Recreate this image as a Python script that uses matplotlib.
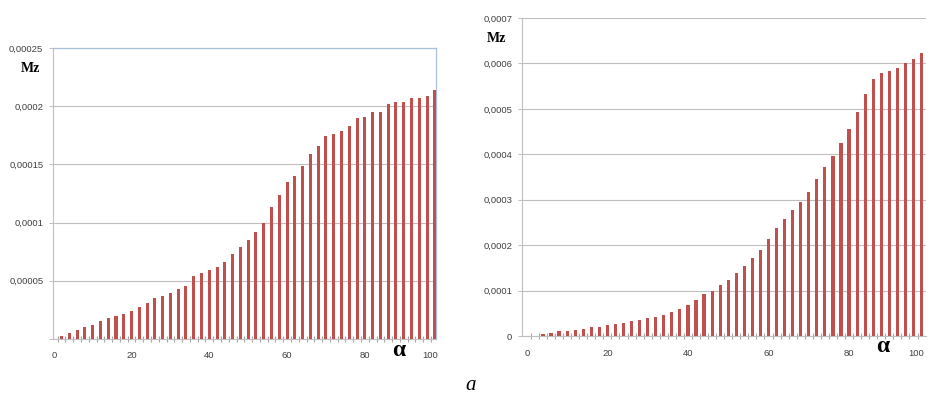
"""Two Excel-style bar charts of Mz versus alpha."""

import matplotlib

matplotlib.use("Agg")
import matplotlib.pyplot as plt
import numpy as np

# data
ALPHA = list(range(2, 100, 2))

MZ_LEFT = [
    0.0000026, 0.0000051, 0.0000074, 0.0000103, 0.0000123, 0.0000151, 0.0000177,
    0.0000200, 0.0000217, 0.0000240, 0.0000274, 0.0000308, 0.0000348, 0.0000373,
    0.0000393, 0.0000428, 0.0000456, 0.0000539, 0.0000564, 0.0000593, 0.0000619,
    0.0000664, 0.0000730, 0.0000790, 0.0000850, 0.0000915, 0.0000998, 0.000113,
    0.000124, 0.000135, 0.000140, 0.000149, 0.000159, 0.000166, 0.000174,
    0.000176, 0.000179, 0.000183, 0.000190, 0.000191, 0.000195, 0.000195,
    0.000202, 0.000204, 0.000204, 0.000207, 0.000207, 0.000209, 0.000214,
]

MZ_RIGHT = [
    0.0, 0.0000037, 0.0000073, 0.000011, 0.000011, 0.000014, 0.0000153,
    0.000019, 0.0000205, 0.000024, 0.0000256, 0.0000292, 0.0000321, 0.0000358,
    0.0000387, 0.0000409, 0.0000453, 0.0000533, 0.0000585, 0.0000672, 0.0000789,
    0.0000935, 0.000100, 0.0001125, 0.0001235, 0.0001395, 0.000155, 0.0001724,
    0.000190, 0.000213, 0.000237, 0.000258, 0.000278, 0.000296, 0.000316,
    0.000346, 0.000373, 0.000396, 0.000425, 0.000455, 0.000493, 0.000533,
    0.000566, 0.000578, 0.000584, 0.000590, 0.000600, 0.000610, 0.000622,
]

X_LABELS = ["0", "20", "40", "60", "80", "100"]
X_LABEL_POS = [0, 20, 40, 60, 80, 96.7]

Y_TICKS_LEFT = [0.0, 0.00005, 0.0001, 0.00015, 0.0002, 0.00025]
Y_LABELS_LEFT = ["", "0,00005", "0,0001", "0,00015", "0,0002", "0,00025"]

Y_TICKS_RIGHT = [0.0, 0.0001, 0.0002, 0.0003, 0.0004, 0.0005, 0.0006, 0.0007]
Y_LABELS_RIGHT = ["0", "0,0001", "0,0002", "0,0003", "0,0004", "0,0005", "0,0006", "0,0007"]

BAR_COLOR = "#c0504d"
GRID_COLOR = "#bfbfbf"
TEXT_COLOR = "#404040"
BORDER_COLOR = "#a9c1da"

plt.rcParams["font.family"] = ["Liberation Sans", "DejaVu Sans"]


def style_axes(ax, yticks, ylabels, xlim, boxed):
    ax.set_xlim(*xlim)
    ax.set_ylim(yticks[0], yticks[-1])
    ax.set_yticks(yticks, labels=ylabels)
    ax.set_xticks(X_LABEL_POS, labels=X_LABELS)
    ax.set_xticks(np.arange(1, 99, 2), minor=True)
    ax.tick_params(axis="y", length=3, width=0.7, color=GRID_COLOR,
                   labelsize=6.8, labelcolor=TEXT_COLOR, pad=4)
    ax.tick_params(axis="x", which="major", length=0, labelsize=6.8,
                   labelcolor=TEXT_COLOR, pad=9)
    ax.tick_params(axis="x", which="minor", direction="inout", length=4,
                   width=0.8, color="#a6a6a6")
    ax.grid(axis="y", color=GRID_COLOR, linewidth=0.8)
    ax.set_axisbelow(True)
    for side in ("left", "bottom"):
        ax.spines[side].set_color(GRID_COLOR)
        ax.spines[side].set_linewidth(0.8)
    if boxed:
        for side in ("top", "right"):
            ax.spines[side].set_color(BORDER_COLOR)
            ax.spines[side].set_linewidth(0.9)
    else:
        ax.spines["top"].set_visible(False)
        ax.spines["right"].set_visible(False)


def main():
    fig = plt.figure(figsize=(9.41, 3.94), dpi=100)

    ax1 = fig.add_axes([53 / 941, 1 - 339 / 394, (436 - 53) / 941, (339 - 48) / 394])
    ax1.bar(ALPHA, MZ_LEFT, width=0.78, color=BAR_COLOR, zorder=3)
    style_axes(ax1, Y_TICKS_LEFT, Y_LABELS_LEFT, (-0.2, 98.3), boxed=True)

    ax2 = fig.add_axes([522 / 941, 1 - 336 / 394, (926 - 522) / 941, (336 - 18) / 394])
    ax2.bar(ALPHA, MZ_RIGHT, width=0.78, color=BAR_COLOR, zorder=3)
    style_axes(ax2, Y_TICKS_RIGHT, Y_LABELS_RIGHT, (-1.2, 99.1), boxed=False)

    serif = ["Liberation Serif", "DejaVu Serif"]
    fig.text(30 / 941, 1 - 69 / 394, "Mz", family=serif, fontweight="bold",
             fontsize=10, ha="center", va="center")
    fig.text(496 / 941, 1 - 38 / 394, "Mz", family=serif, fontweight="bold",
             fontsize=10, ha="center", va="center")
    fig.text(399 / 941, 1 - 351 / 394, "α", family=serif, fontweight="bold",
             fontsize=17, ha="center", va="center")
    fig.text(883 / 941, 1 - 347 / 394, "α", family=serif, fontweight="bold",
             fontsize=17, ha="center", va="center")
    fig.text(471 / 941, 1 - 385 / 394, "a", family=serif, style="italic",
             fontsize=15, ha="center", va="center")

    fig.savefig("out.png", dpi=100)
    plt.close(fig)


if __name__ == "__main__":
    main()
